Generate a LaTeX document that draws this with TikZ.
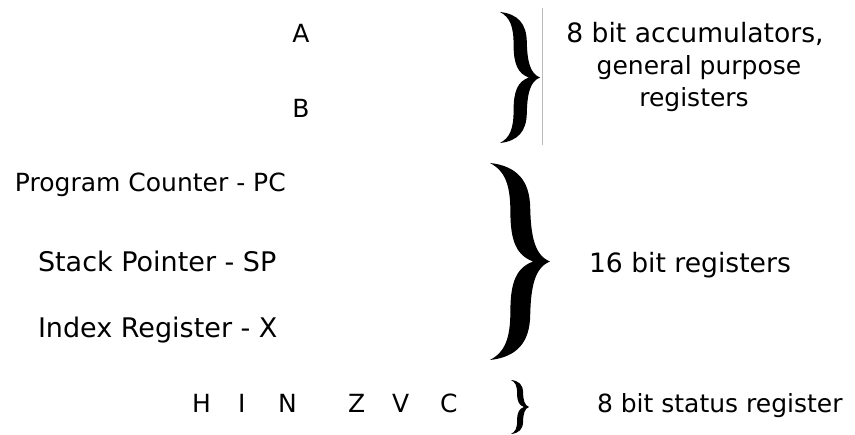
\documentclass[tikz,border=0pt]{standalone}
\usepackage{fontspec}
\setmainfont{DejaVu Sans}
\begin{document}
\begin{tikzpicture}[x=1pt,y=-1pt,
  every node/.style={inner sep=0pt,outer sep=0pt,font=\fontsize{25}{32}\selectfont},
  lbl/.style={anchor=base west},
  ctr/.style={anchor=base},
  big/.style={font=\fontsize{27}{32}\selectfont},
  mid/.style={font=\fontsize{26.6}{32}\selectfont},
  divider/.style={draw=black!27,line width=1pt},
  pics/curly/.style={code={
    \fill[black] (0,1) .. controls (0.45,0.97) and (0.66,0.82) .. (0.67,0.55)
      .. controls (0.68,0.25) and (0.75,0.06) .. (1,0)
      .. controls (0.75,-0.06) and (0.68,-0.25) .. (0.67,-0.55)
      .. controls (0.66,-0.82) and (0.45,-0.97) .. (0,-1)
      .. controls (0.25,-0.92) and (0.34,-0.78) .. (0.34,-0.5)
      .. controls (0.34,-0.2) and (0.45,-0.06) .. (0.72,0)
      .. controls (0.45,0.06) and (0.34,0.2) .. (0.34,0.5)
      .. controls (0.34,0.78) and (0.25,0.92) .. (0,1) -- cycle;
  }}]
\useasboundingbox[fill=white] (0,0) rectangle (855,435);

% accumulators
\node[ctr] (A) at (301,43) {A};
\node[ctr] (B) at (301,118) {B};
\pic[xscale=40,yscale=65.5] (br1) at (500,77.5) {curly};
\coordinate (d1) at (542,8);
\coordinate (d2) at (542,145);
\draw[divider] (d1) -- (d2);
\node[ctr,mid] (acc1) at (695,43) {8 bit accumulators,};
\node[ctr] (acc2) at (699,75) {general purpose};
\node[ctr] (acc3) at (694,107) {registers};

% 16 bit registers
\node[lbl] (pc) at (15,192) {Program Counter - PC};
\node[lbl,big] (sp) at (38,272) {Stack Pointer - SP};
\node[lbl,big] (ix) at (38,338) {Index Register - X};
\pic[xscale=60,yscale=98.5] (br2) at (490,261.5) {curly};
\node[lbl,mid] (r16) at (589,273) {16 bit registers};

% condition code register
\node[lbl] (fH) at (192,413) {H};
\node[lbl] (fI) at (238,413) {I};
\node[lbl] (fN) at (278,413) {N};
\node[lbl] (fZ) at (348,413) {Z};
\node[lbl] (fV) at (392,413) {V};
\node[lbl] (fC) at (440,413) {C};
\pic[xscale=18,yscale=27] (br3) at (511,407) {curly};
\node[lbl] (sr) at (597,413) {8 bit status register};
\end{tikzpicture}
\end{document}
